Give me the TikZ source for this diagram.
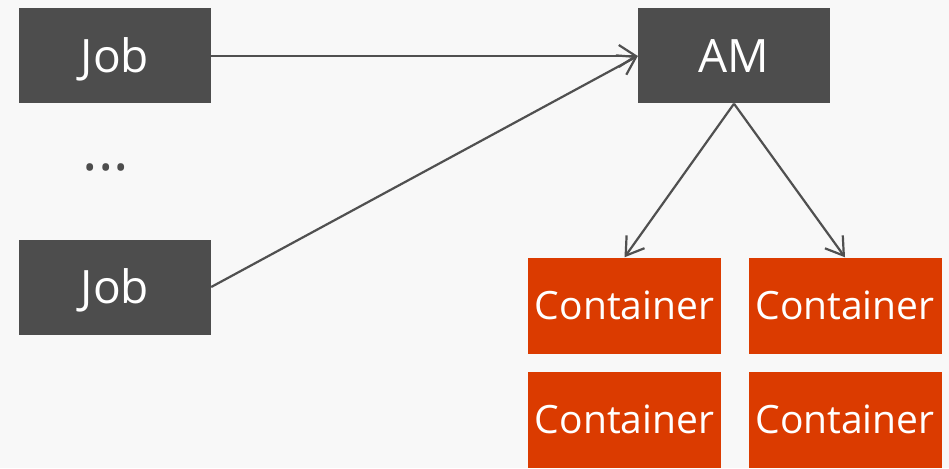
\documentclass[tikz,border=0pt]{standalone}
\usepackage{fontspec}
\setmainfont{Open Sans}
\usetikzlibrary{arrows.meta}
\definecolor{bg}{RGB}{248,248,248}
\definecolor{boxgray}{RGB}{77,77,77}
\definecolor{linegray}{RGB}{80,80,80}
\definecolor{boxorange}{RGB}{219,59,0}
\tikzset{
  box/.style={rectangle, inner sep=0pt, minimum width=192pt, minimum height=95pt,
    text=white},
  jobbox/.style={box, fill=boxgray, font=\fontsize{46}{46}\selectfont,
    text height=32.8pt, text depth=0pt},
  cbox/.style={box, fill=boxorange, minimum width=193pt, minimum height=96pt,
    font=\fontsize{39}{39}\selectfont, text height=27.8pt, text depth=0pt},
  link/.style={draw=linegray, line width=2.2pt,
    -{Straight Barb[length=17pt, width=22pt, line width=2.2pt]}}
}
\begin{document}
\begin{tikzpicture}[x=1pt, y=-1pt]
  \fill[bg] (0,0) rectangle (949,468);
  \useasboundingbox (0,0) rectangle (949,468);
  % job submitters and the application master
  \node[jobbox] (job1) at (115,56) {Job};
  \node[jobbox] (job2) at (115,287) {Job};
  \node[text=boxgray, inner sep=0pt, font=\fontsize{58}{58}\selectfont] (dots) at (106,167) {...};
  \node[jobbox] (am) at (734,56) {AM};
  % containers
  \node[cbox] (c1) at (624.5,305.5) {Container};
  \node[cbox] (c2) at (845,305.5) {Container};
  \node[cbox] (c3) at (624.5,420) {Container};
  \node[cbox] (c4) at (845,420) {Container};
  % connectors
  \draw[link] (job1.east) -- (am.west);
  \draw[link] (job2.east) -- (am.west);
  \draw[link] (am.south) -- (c1.north);
  \draw[link] (am.south) -- (c2.north);
\end{tikzpicture}
\end{document}
